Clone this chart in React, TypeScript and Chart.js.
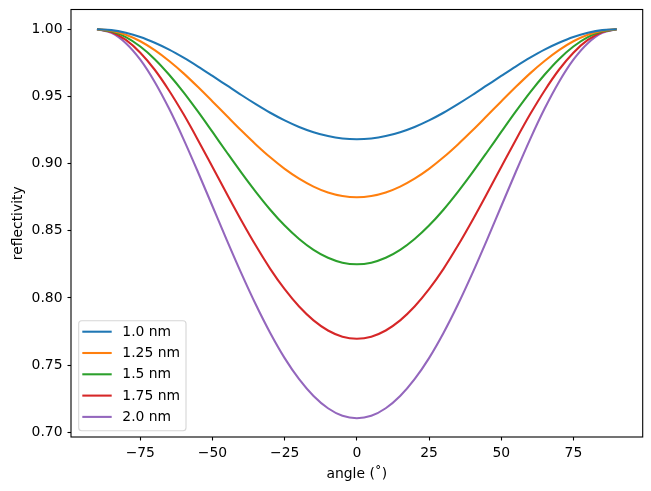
import React, { useEffect, useRef } from "react";
import { Chart, registerables } from "chart.js";

Chart.register(...registerables);

// Incidence angle in degrees
const angles = [
  -90, -85, -80, -75, -70, -65, -60, -55, -50, -45, -40, -35, -30, -25, -20, -15, -10, -5,
  0, 5, 10, 15, 20, 25, 30, 35, 40, 45, 50, 55, 60, 65, 70, 75, 80, 85, 90,
];

// Reflectivity for each roughness value
const r10 = [
  1.0, 0.9994, 0.9974, 0.9943, 0.99, 0.9849, 0.9789, 0.9723, 0.9653, 0.9582, 0.9511, 0.9443,
  0.9379, 0.9322, 0.9273, 0.9234, 0.9205, 0.9187, 0.9181, 0.9187, 0.9205, 0.9234, 0.9273,
  0.9322, 0.9379, 0.9443, 0.9511, 0.9582, 0.9653, 0.9723, 0.9789, 0.9849, 0.99, 0.9943,
  0.9974, 0.9994, 1.0,
];
const r125 = [
  1.0, 0.999, 0.996, 0.9911, 0.9845, 0.9764, 0.9672, 0.957, 0.9463, 0.9354, 0.9246, 0.9143,
  0.9047, 0.8961, 0.8888, 0.8829, 0.8785, 0.8759, 0.875, 0.8759, 0.8785, 0.8829, 0.8888,
  0.8961, 0.9047, 0.9143, 0.9246, 0.9354, 0.9463, 0.957, 0.9672, 0.9764, 0.9845, 0.9911,
  0.996, 0.999, 1.0,
];
const r15 = [
  1.0, 0.9985, 0.9942, 0.9872, 0.9778, 0.9662, 0.9531, 0.9387, 0.9236, 0.9083, 0.8933, 0.879,
  0.8657, 0.8539, 0.8439, 0.8358, 0.8299, 0.8263, 0.8251, 0.8263, 0.8299, 0.8358, 0.8439,
  0.8539, 0.8657, 0.879, 0.8933, 0.9083, 0.9236, 0.9387, 0.9531, 0.9662, 0.9778, 0.9872,
  0.9942, 0.9985, 1.0,
];
const r175 = [
  1.0, 0.998, 0.9921, 0.9826, 0.9699, 0.9543, 0.9367, 0.9175, 0.8975, 0.8774, 0.8577, 0.839,
  0.8217, 0.8065, 0.7936, 0.7833, 0.7758, 0.7712, 0.7697, 0.7712, 0.7758, 0.7833, 0.7936,
  0.8065, 0.8217, 0.839, 0.8577, 0.8774, 0.8975, 0.9175, 0.9367, 0.9543, 0.9699, 0.9826,
  0.9921, 0.998, 1.0,
];
const r20 = [
  1.0, 0.9974, 0.9897, 0.9774, 0.9608, 0.9408, 0.9181, 0.8936, 0.8683, 0.8429, 0.8183, 0.7951,
  0.7739, 0.7552, 0.7395, 0.727, 0.7179, 0.7123, 0.7105, 0.7123, 0.7179, 0.727, 0.7395,
  0.7552, 0.7739, 0.7951, 0.8183, 0.8429, 0.8683, 0.8936, 0.9181, 0.9408, 0.9608, 0.9774,
  0.9897, 0.9974, 1.0,
];

const seriesLabels = ["1.0 nm", "1.25 nm", "1.5 nm", "1.75 nm", "2.0 nm"];
const seriesValues = [r10, r125, r15, r175, r20];
const seriesColors = ["#1f77b4", "#ff7f0e", "#2ca02c", "#d62728", "#9467bd"];

const xTicks = [-75, -50, -25, 0, 25, 50, 75];
const yTicks = [0.7, 0.75, 0.8, 0.85, 0.9, 0.95, 1.0];

const FONT = "DejaVu Sans";
const FS = 13.9;

// Full box around the plotting area
const framePlugin = {
  id: "frame",
  afterDatasetsDraw(chart: any) {
    const { ctx, chartArea: a } = chart;
    ctx.save();
    ctx.strokeStyle = "#000";
    ctx.lineWidth = 1.1;
    ctx.strokeRect(a.left, a.top, a.right - a.left, a.bottom - a.top);
    ctx.restore();
  },
};

// Framed legend in the lower-left corner of the plot
const legendPlugin = {
  id: "boxLegend",
  afterDatasetsDraw(chart: any) {
    const { ctx, chartArea: a } = chart;
    const ds = chart.data.datasets;
    const w = 107.3;
    const rowH = 21.3;
    const h = 110;
    const x0 = a.left + 7.7;
    const y0 = a.bottom - 6.3 - h;
    ctx.save();
    const r = 3;
    ctx.beginPath();
    ctx.moveTo(x0 + r, y0);
    ctx.arcTo(x0 + w, y0, x0 + w, y0 + h, r);
    ctx.arcTo(x0 + w, y0 + h, x0, y0 + h, r);
    ctx.arcTo(x0, y0 + h, x0, y0, r);
    ctx.arcTo(x0, y0, x0 + w, y0, r);
    ctx.closePath();
    ctx.fillStyle = "rgba(255,255,255,0.8)";
    ctx.fill();
    ctx.strokeStyle = "rgba(204,204,204,0.8)";
    ctx.lineWidth = 1.1;
    ctx.stroke();
    ctx.font = `${FS}px "${FONT}"`;
    ctx.textBaseline = "middle";
    ctx.textAlign = "left";
    ds.forEach((d: any, i: number) => {
      const y = y0 + 11 + i * rowH;
      ctx.strokeStyle = d.borderColor;
      ctx.lineWidth = 2.08;
      ctx.beginPath();
      ctx.moveTo(x0 + 3.6, y);
      ctx.lineTo(x0 + 33, y);
      ctx.stroke();
      ctx.fillStyle = "#000";
      ctx.fillText(d.label, x0 + 43.6, y + 0.5);
    });
    ctx.restore();
  },
};

export default function App() {
  const ref = useRef<HTMLCanvasElement>(null);

  useEffect(() => {
    if (!ref.current) return;
    const chart = new Chart(ref.current, {
      type: "line",
      data: {
        datasets: seriesValues.map((vals, i) => ({
          label: seriesLabels[i],
          data: angles.map((a, j) => ({ x: a, y: vals[j] })),
          borderColor: seriesColors[i],
          backgroundColor: seriesColors[i],
          borderWidth: 2.08,
          pointRadius: 0,
          cubicInterpolationMode: "monotone" as const,
          fill: false,
        })),
      },
      options: {
        responsive: false,
        animation: false,
        devicePixelRatio: 1,
        layout: { padding: { left: 0, top: 9.5, right: 8.3, bottom: 0 } },
        plugins: {
          legend: { display: false },
          tooltip: { enabled: false },
        },
        scales: {
          x: {
            type: "linear",
            min: -99,
            max: 99,
            afterBuildTicks: (s: any) => {
              s.ticks = xTicks.map((v) => ({ value: v }));
            },
            afterFit: (s: any) => {
              s.height = 54;
              s.paddingLeft = 0;
              s.paddingRight = 0;
            },
            border: { display: false },
            grid: {
              display: true,
              drawOnChartArea: false,
              drawTicks: true,
              tickLength: 3.5,
              tickColor: "#000",
              tickWidth: 1.1,
            },
            ticks: {
              color: "#000",
              font: { family: FONT, size: FS },
              padding: 5,
              maxRotation: 0,
              autoSkip: false,
              callback: (v: any) => (v < 0 ? "\u2212" + Math.abs(v) : String(v)),
            },
            title: {
              display: true,
              text: "angle (˚)",
              color: "#000",
              font: { family: FONT, size: FS },
              padding: { top: 0, bottom: 8.5 },
            },
          },
          y: {
            type: "linear",
            min: 0.6965,
            max: 1.01475,
            afterBuildTicks: (s: any) => {
              s.ticks = yTicks.map((v) => ({ value: v }));
            },
            afterFit: (s: any) => {
              s.width = 71;
              s.paddingTop = 0;
              s.paddingBottom = 0;
            },
            border: { display: false },
            grid: {
              display: true,
              drawOnChartArea: false,
              drawTicks: true,
              tickLength: 3.5,
              tickColor: "#000",
              tickWidth: 1.1,
            },
            ticks: {
              color: "#000",
              font: { family: FONT, size: FS },
              padding: 5,
              autoSkip: false,
              callback: (v: any) => Number(v).toFixed(2),
            },
            title: {
              display: true,
              text: "reflectivity",
              color: "#000",
              font: { family: FONT, size: FS },
              padding: { top: 9.7, bottom: 0 },
            },
          },
        },
      },
      plugins: [framePlugin, legendPlugin],
    });
    return () => chart.destroy();
  }, []);

  return (
    <div style={{ position: "fixed", left: 0, top: 0, width: 651, height: 491, background: "#fff" }}>
      <canvas ref={ref} width={651} height={491} />
    </div>
  );
}
